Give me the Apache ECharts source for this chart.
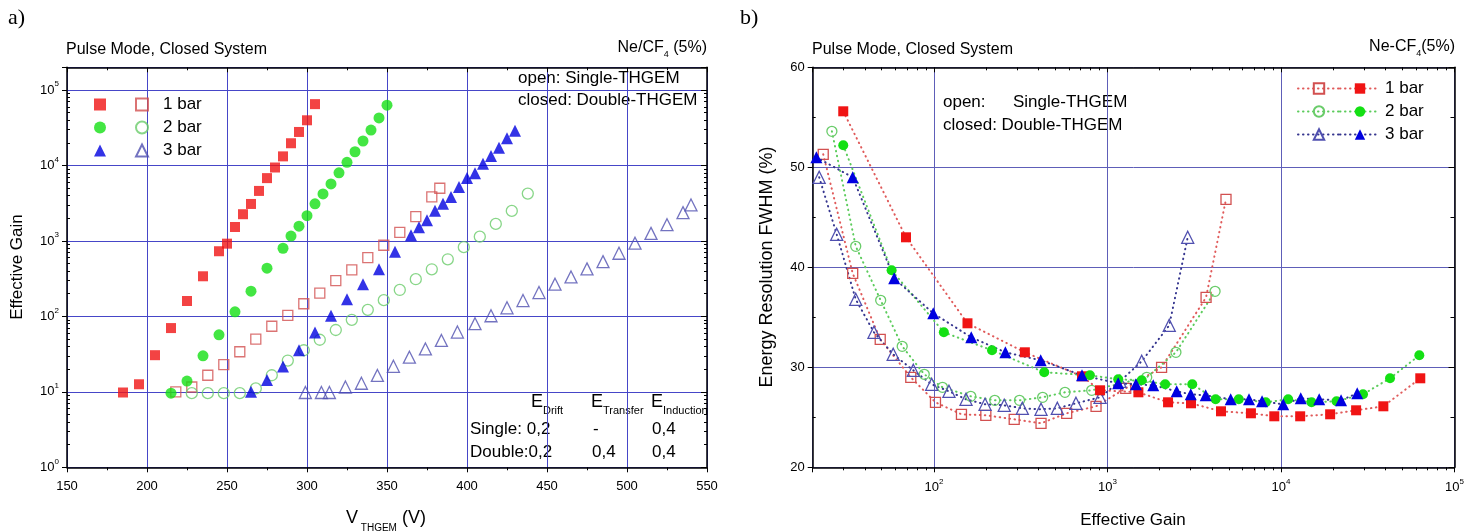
<!DOCTYPE html>
<html>
<head>
<meta charset="utf-8">
<title>THGEM gain and energy resolution</title>
<script src="https://cdn.jsdelivr.net/npm/echarts@6.0.0/dist/echarts.min.js"></script>
<style>
  html, body { margin: 0; padding: 0; background: #fff; }
  #wrap { position: relative; width: 1476px; height: 532px; }
  .chart { position: absolute; top: 0; width: 738px; height: 532px; }
  #chart_a { left: 0; }
  #chart_b { left: 738px; }
</style>
</head>
<body>
<div id="wrap">
  <div class="chart" id="chart_a"></div>
  <div class="chart" id="chart_b"></div>
</div>
<script>
// ---- a) effective gain vs V_THGEM (open = single, closed = double THGEM)
const vDouble1 = [185, 195, 205, 215, 225, 235, 245, 250, 255, 260, 265, 270, 275, 280, 285, 290, 295, 300, 305];
const gainDouble1 = [9.8, 12.6, 30.6, 70, 160, 340, 730, 920, 1530, 2260, 3090, 4600, 6800, 9400, 13200, 19700, 27800, 39700, 65000];
const vDouble2 = [215, 225, 235, 245, 255, 265, 275, 285, 290, 295, 300, 305, 310, 315, 320, 325, 330, 335, 340, 345, 350];
const gainDouble2 = [9.6, 13.9, 30, 57, 115, 216, 435, 800, 1160, 1570, 2160, 3100, 4200, 5700, 8000, 11000, 15200, 21100, 29500, 42600, 63000];
const vDouble3 = [265, 275, 285, 295, 305, 315, 325, 335, 345, 355, 365, 370, 375, 380, 385, 390, 395, 400, 405, 410, 415, 420, 425, 430];
const gainDouble3 = [10, 14.4, 21.6, 35.5, 61, 102, 169, 267, 420, 720, 1190, 1520, 1880, 2520, 3100, 3830, 5200, 6800, 7900, 10500, 13400, 17200, 22900, 28900];
const vSingle1 = [218, 228, 238, 248, 258, 268, 278, 288, 298, 308, 318, 328, 338, 348, 358, 368, 378, 383];
const gainSingle1 = [10, 11.6, 16.6, 23, 34, 50, 74, 103, 147, 203, 298, 413, 601, 877, 1300, 2100, 3830, 4990];
const vSingle2 = [228, 238, 248, 258, 268, 278, 288, 298, 308, 318, 328, 338, 348, 358, 368, 378, 388, 398, 408, 418, 428, 438];
const gainSingle2 = [9.6, 9.6, 9.6, 9.6, 11.1, 16.6, 26, 35.6, 49, 66, 90, 122, 164, 224, 311, 421, 571, 826, 1140, 1680, 2500, 4240];
const vSingle3 = [299, 309, 314, 324, 334, 344, 354, 364, 374, 384, 394, 405, 415, 425, 435, 445, 455, 465, 475, 485, 495, 505, 515, 525, 535, 540];
const gainSingle3 = [9.8, 9.8, 9.8, 11.6, 13, 16.5, 21.8, 28.8, 37, 48, 62, 80, 102, 130, 162, 207, 267, 333, 426, 532, 687, 933, 1260, 1640, 2370, 3000];

// ---- b) energy resolution vs effective gain
const gainB1Double = [30, 69, 156, 334, 713, 906, 1507, 2234, 3030, 4510, 6710, 9150, 12900, 19200, 27100, 38900, 63500];
const resB1Double = [55.6, 43.0, 34.4, 31.5, 29.1, 27.7, 27.5, 26.5, 26.4, 25.6, 25.4, 25.1, 25.1, 25.3, 25.7, 26.1, 28.9];
const gainB2Double = [30, 57, 114, 216, 432, 792, 1153, 1575, 2150, 3080, 4200, 5710, 8170, 11000, 15000, 20900, 29700, 42500, 62700];
const resB2Double = [52.2, 39.7, 33.5, 31.7, 29.5, 29.2, 28.8, 28.7, 28.3, 28.3, 26.8, 26.8, 26.5, 26.8, 26.5, 26.6, 27.3, 28.9, 31.2];
const gainB3Double = [21, 34, 59, 99, 164, 258, 412, 713, 1153, 1459, 1836, 2505, 3020, 3680, 5130, 6540, 7780, 10300, 13000, 16600, 22200, 27500];
const resB3Double = [51.0, 49.0, 38.9, 35.4, 33.0, 31.5, 30.7, 29.2, 28.4, 28.3, 28.2, 27.6, 27.3, 27.2, 26.8, 26.8, 26.6, 26.3, 26.9, 26.8, 26.7, 27.4];
const gainB1Single = [23, 34, 49, 73.5, 102, 144, 199, 290, 414, 582, 859, 1274, 2050, 3700, 4820];
const resB1Single = [51.3, 39.4, 32.8, 29.0, 26.5, 25.3, 25.2, 24.8, 24.4, 25.4, 26.1, 27.9, 30.0, 37.0, 46.8];
const gainB2Single = [25.8, 35.4, 49.3, 65.6, 87.9, 112, 163, 224, 311, 423, 569, 811, 1683, 2480, 4170];
const resB2Single = [53.6, 42.1, 36.7, 32.1, 29.3, 28.0, 27.1, 26.7, 26.7, 27.0, 27.5, 27.7, 29.0, 31.5, 37.6];
const gainB3Single = [21.8, 27.5, 35.4, 45.1, 58.2, 76, 97, 122, 153, 197, 254, 323, 414, 514, 658, 906, 1180, 1575, 2270, 2900];
const resB3Single = [49.0, 43.3, 36.8, 33.5, 31.3, 29.7, 28.3, 27.6, 26.8, 26.3, 26.2, 25.9, 25.8, 25.9, 26.4, 27.0, 28.6, 30.6, 34.2, 43.0];

const barLabels = ['1 bar', '2 bar', '3 bar'];
const minorLinTicksB = [25, 35, 45, 55];

const FONT = "'Liberation Sans', Arial, Helvetica, sans-serif";
const SERIF = "'Liberation Serif', 'Times New Roman', serif";
const GRID_A = '#4646c8';
const GRID_B = '#5e5eb8';

const zip = (xs, ys) => xs.map((x, i) => [x, ys[i]]);

// minor ticks of a log axis: 2..9 x 10^e
function logMinorTicks (from, to) {
  const out = [];
  for (let e = from; e <= to; e++) {
    for (let k = 2; k <= 9; k++) out.push(k * Math.pow(10, e));
  }
  return out;
}

function logTickLabel (value) {
  const e = Math.round(Math.log10(value));
  if (Math.abs(value / Math.pow(10, e) - 1) > 1e-6) return '';
  return '{b|10}{s|' + e + '}';
}
const supRich = {
  b: { fontSize: 13, lineHeight: 20, color: '#000', fontFamily: FONT, verticalAlign: 'middle' },
  s: { fontSize: 8, lineHeight: 8, color: '#000', fontFamily: FONT, verticalAlign: 'top' }
};

const black = { color: '#000', width: 1 };

// frame / tick axis helper
function axis (o) {
  return Object.assign({
    gridIndex: 0,
    axisLine: { show: true, onZero: false, lineStyle: { color: '#000', width: 1.5 } },
    axisTick: { show: true, inside: false, length: 5, lineStyle: black },
    axisLabel: { show: false },
    splitLine: { show: false }
  }, o);
}
function minorAxis (o, values, inside) {
  return axis(Object.assign({
    axisLine: { show: false, onZero: false },
    axisTick: { show: true, inside: inside, length: 3, customValues: values, lineStyle: black }
  }, o));
}

function txt (x, y, text, size, extra) {
  return {
    type: 'text', x: x, y: y, silent: true,
    style: Object.assign({
      text: text, fill: '#000', fontSize: size, fontFamily: FONT,
      align: 'left', verticalAlign: 'middle'
    }, extra || {})
  };
}
function subRich (big, small, bigLh) {
  return {
    n: { fontSize: big, lineHeight: bigLh, fontFamily: FONT, fill: '#000', verticalAlign: 'middle' },
    d: { fontSize: small, lineHeight: small, fontFamily: FONT, fill: '#000', verticalAlign: 'bottom' }
  };
}

// two legends side by side: the first one only shows icons (text kept but invisible so rows line up)
function legendPair (first, second, names, lab) {
  const common = {
    orient: 'vertical', padding: 0, itemGap: 6, selectedMode: false,
    formatter: n => n.replace(/^(Single|Double) /, '')
  };
  return [
    Object.assign({}, common, first, {
      data: names[0],
      textStyle: { fontSize: 17, fontFamily: FONT, color: 'rgba(0,0,0,0)' }
    }),
    Object.assign({}, common, second, {
      data: names[1],
      textStyle: Object.assign({ fontSize: 17, fontFamily: FONT, color: '#000' }, lab)
    })
  ];
}

// ================= chart a =================
const chartA = echarts.init(document.getElementById('chart_a'));

const colA = {
  d: ['#f01414', '#14e014', '#0000e0'],
  s: ['#d25050', '#6acc6a', '#5050b0']
};
const symA = ['rect', 'circle', 'triangle'];
const sizeA = [10, 11, 12];
const vD = [vDouble1, vDouble2, vDouble3];
const gD = [gainDouble1, gainDouble2, gainDouble3];
const vS = [vSingle1, vSingle2, vSingle3];
const gS = [gainSingle1, gainSingle2, gainSingle3];

const seriesA = [];
barLabels.forEach((lab, i) => {
  seriesA.push({
    type: 'scatter', name: 'Single ' + lab, data: zip(vS[i], gS[i]),
    symbol: symA[i], symbolSize: sizeA[i], z: 2,
    itemStyle: { color: 'rgba(255,255,255,0)', borderColor: colA.s[i], borderWidth: 1.3 }
  });
  seriesA.push({
    type: 'scatter', name: 'Double ' + lab, data: zip(vD[i], gD[i]),
    symbol: symA[i], symbolSize: sizeA[i], z: 3,
    itemStyle: { color: colA.d[i] }
  });
});

const optionA = {
  animation: false,
  backgroundColor: '#fff',
  textStyle: { fontFamily: FONT },
  grid: { left: 67, top: 67.3, width: 640, height: 400 },
  legend: legendPair(
    { left: 94, top: 96, itemWidth: 12, itemHeight: 12 },
    { left: 135, top: 96, itemWidth: 12, itemHeight: 12 },
    [barLabels.map(l => 'Double ' + l), barLabels.map(l => 'Single ' + l)],
    { padding: [0, 0, 0, 10] }
  ),
  xAxis: [
    axis({
      type: 'value', min: 150, max: 550, interval: 50, position: 'bottom',
      minorTick: { show: true, splitNumber: 2, length: 3, lineStyle: black },
      axisLabel: { show: true, fontSize: 13, color: '#000', fontFamily: FONT, margin: 13 },
      splitLine: { show: true, lineStyle: { color: GRID_A, width: 1 } }
    }),
    axis({
      type: 'value', min: 150, max: 550, interval: 50, position: 'top',
      axisTick: { show: true, inside: true, length: 5, lineStyle: black },
      minorTick: { show: true, splitNumber: 2, length: 3, lineStyle: black }
    })
  ],
  yAxis: [
    axis({
      type: 'log', min: 1, max: 200000, position: 'left',
      axisLabel: { show: true, formatter: logTickLabel, rich: supRich, margin: 8 },
      splitLine: { show: true, lineStyle: { color: GRID_A, width: 1 } }
    }),
    axis({
      type: 'log', min: 1, max: 200000, position: 'right',
      axisTick: { show: true, inside: true, length: 6, lineStyle: black }
    }),
    minorAxis({ type: 'log', min: 1, max: 200000, position: 'left' }, logMinorTicks(0, 4), true),
    minorAxis({ type: 'log', min: 1, max: 200000, position: 'right' }, logMinorTicks(0, 4), true)
  ],
  series: seriesA,
  graphic: [
    txt(8, 18, 'a)', 22, { fontFamily: SERIF }),
    txt(66, 50, 'Pulse Mode, Closed System', 16),
    txt(707, 48, '{n|Ne/CF}{d|4}{n| (5%)}', 16, { align: 'right', rich: subRich(16, 9, 22) }),
    txt(518, 78, 'open: Single-THGEM', 17),
    txt(518, 100, 'closed: Double-THGEM', 17),
    txt(531, 402, '{n|E}{d|Drift}', 18, { rich: subRich(18, 11, 28) }),
    txt(591, 402, '{n|E}{d|Transfer}', 18, { rich: subRich(18, 11, 28) }),
    txt(651, 402, '{n|E}{d|Induction}', 18, { rich: subRich(18, 11, 28) }),
    txt(470, 429, 'Single: 0,2', 17),
    txt(593, 429, '-', 17),
    txt(652, 429, '0,4', 17),
    txt(470, 452, 'Double:0,2', 17),
    txt(592, 452, '0,4', 17),
    txt(652, 452, '0,4', 17),
    txt(17, 267, 'Effective Gain', 17, { align: 'center' }),
    txt(386, 518, '{n|V}{d| THGEM}{n| (V)}', 18, { align: 'center', rich: subRich(18, 10, 30) })
  ]
};
// rotate the y title
optionA.graphic[14].rotation = Math.PI / 2;
chartA.setOption(optionA, true);

// ================= chart b =================
const chartB = echarts.init(document.getElementById('chart_b'));

const colB = {
  d: ['#f01414', '#14e014', '#0000e0'],
  s: ['#d25050', '#6acc6a', '#5050b0'],
  line: ['#e05a5a', '#5ccc5c', '#36368f']
};
const symB = ['rect', 'circle', 'triangle'];
const sizeB = [10, 10, 12];
const gBD = [gainB1Double, gainB2Double, gainB3Double];
const rBD = [resB1Double, resB2Double, resB3Double];
const gBS = [gainB1Single, gainB2Single, gainB3Single];
const rBS = [resB1Single, resB2Single, resB3Single];

const dotted = c => ({ color: c, width: 2, type: [0.5, 4.5], cap: 'round' });

const seriesB = [];
barLabels.forEach((lab, i) => {
  seriesB.push({
    type: 'line', name: 'Single ' + lab, data: zip(gBS[i], rBS[i]),
    symbol: symB[i], symbolSize: sizeB[i], showSymbol: true, z: 2,
    itemStyle: { color: 'rgba(255,255,255,0)', borderColor: colB.s[i], borderWidth: 1.3 },
    lineStyle: dotted(colB.line[i])
  });
  seriesB.push({
    type: 'line', name: 'Double ' + lab, data: zip(gBD[i], rBD[i]),
    symbol: symB[i], symbolSize: sizeB[i], showSymbol: true, z: 3,
    itemStyle: { color: colB.d[i] },
    lineStyle: dotted(colB.line[i])
  });
});

const optionB = {
  animation: false,
  backgroundColor: '#fff',
  textStyle: { fontFamily: FONT },
  grid: { left: 74.7, top: 67.3, width: 641.8, height: 400 },
  legend: legendPair(
    { left: 559, top: 80, itemWidth: 42, itemHeight: 13 },
    { left: 601, top: 80, itemWidth: 40, itemHeight: 13 },
    [barLabels.map(l => 'Single ' + l), barLabels.map(l => 'Double ' + l)],
    {}
  ),
  xAxis: [
    axis({
      type: 'log', min: 20, max: 100000, position: 'bottom',
      axisLabel: { show: true, formatter: logTickLabel, rich: supRich, margin: 10 },
      splitLine: { show: true, lineStyle: { color: GRID_B, width: 1 } }
    }),
    axis({
      type: 'log', min: 20, max: 100000, position: 'top',
      axisTick: { show: true, inside: true, length: 5, lineStyle: black }
    }),
    minorAxis({ type: 'log', min: 20, max: 100000, position: 'bottom' }, logMinorTicks(1, 4), false),
    minorAxis({ type: 'log', min: 20, max: 100000, position: 'top' }, logMinorTicks(1, 4), true)
  ],
  yAxis: [
    axis({
      type: 'value', min: 20, max: 60, interval: 10, position: 'left',
      axisLabel: { show: true, fontSize: 13, color: '#000', fontFamily: FONT, margin: 8 },
      splitLine: { show: true, lineStyle: { color: GRID_B, width: 1 } }
    }),
    axis({
      type: 'value', min: 20, max: 60, interval: 10, position: 'right',
      axisTick: { show: true, inside: true, length: 6, lineStyle: black },
      minorTick: { show: true, splitNumber: 2, length: 4, lineStyle: black }
    }),
    minorAxis({ type: 'value', min: 20, max: 60, interval: 10, position: 'left' }, minorLinTicksB, true)
  ],
  series: seriesB,
  graphic: [
    txt(2, 18, 'b)', 22, { fontFamily: SERIF }),
    txt(74, 50, 'Pulse Mode, Closed System', 16),
    txt(717, 47, '{n|Ne-CF}{d|4}{n|(5%)}', 16, { align: 'right', rich: subRich(16, 9, 22) }),
    txt(205, 102, 'open:', 17),
    txt(275, 102, 'Single-THGEM', 17),
    txt(205, 125, 'closed: Double-THGEM', 17),
    txt(29, 267, 'Energy Resolution FWHM (%)', 18, { align: 'center' }),
    txt(395, 520, 'Effective Gain', 17, { align: 'center' })
  ]
};
optionB.graphic[6].rotation = Math.PI / 2;
chartB.setOption(optionB, true);

window.addEventListener('resize', () => {
  chartA.resize();
  chartB.resize();
});
</script>
</body>
</html>
